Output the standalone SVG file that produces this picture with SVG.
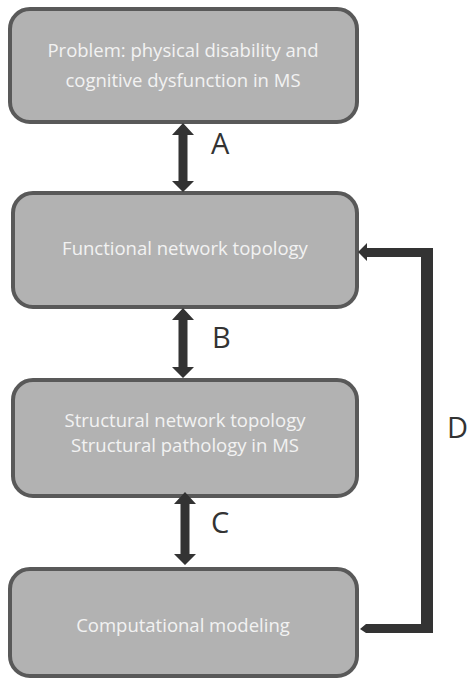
<svg xmlns="http://www.w3.org/2000/svg" width="469" height="679" viewBox="0 0 469 679">
<style>
.box{fill:#b2b2b2;stroke:#595959;stroke-width:4}
.t{font-family:"Open Sans","Liberation Sans",sans-serif;font-size:18.5px;fill:#f2f2f2;text-anchor:middle}
.lbl{font-family:"Open Sans","Liberation Sans",sans-serif;font-size:29px;fill:#333333}
.ar{fill:#333333}
</style>
<rect x="0" y="0" width="469" height="679" fill="#ffffff"/>
<g id="node-problem">
<rect class="box" x="10" y="9" width="347" height="113" rx="20"/>
<text class="t" x="183" y="57">Problem: physical disability and</text>
<text class="t" x="183" y="87">cognitive dysfunction in MS</text>
</g>
<g id="node-functional">
<rect class="box" x="13" y="193" width="344" height="114" rx="20"/>
<text class="t" x="185" y="255">Functional network topology</text>
</g>
<g id="node-structural">
<rect class="box" x="13" y="380" width="344" height="116" rx="20"/>
<text class="t" x="185" y="427">Structural network topology</text>
<text class="t" x="185" y="452">Structural pathology in MS</text>
</g>
<g id="node-computational">
<rect class="box" x="10" y="569" width="347" height="107" rx="20"/>
<text class="t" x="183" y="632">Computational modeling</text>
</g>
<g id="connectors">
<polygon class="ar" points="183,123 194,135 187.5,135 187.5,181 194,181 183,192 172,181 178.5,181 178.5,135 172,135"/>
<polygon class="ar" points="183,308 194,320 187.5,320 187.5,367 194,367 183,378 172,367 178.5,367 178.5,320 172,320"/>
<polygon class="ar" points="185,492 196,504 189.5,504 189.5,554 196,554 185,565 174,554 180.5,554 180.5,504 174,504"/>
<polygon class="ar" points="358,252 367,243 367,248 433,248 433,633 366,633 360,629 366,624 421,624 421,257 367,257 367,261"/>
<text class="lbl" x="211" y="154">A</text>
<text class="lbl" x="212" y="348">B</text>
<text class="lbl" x="211" y="533">C</text>
<text class="lbl" x="447" y="438">D</text>
</g>
</svg>
